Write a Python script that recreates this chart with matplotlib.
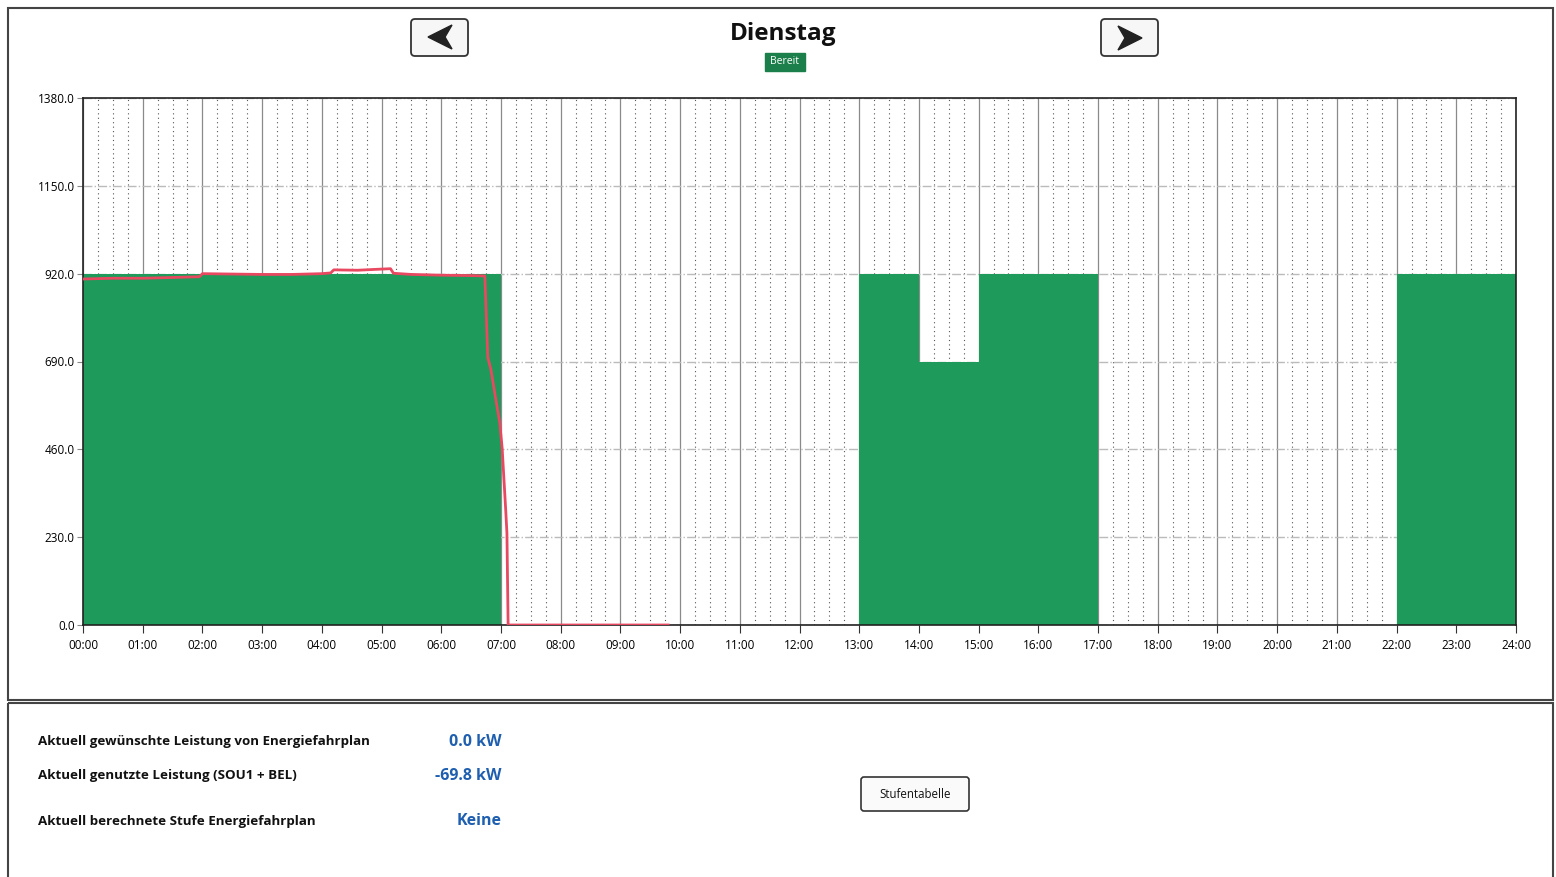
import matplotlib.pyplot as plt
import numpy as np
from matplotlib.patches import Rectangle, FancyBboxPatch, Polygon

plt.rcParams['font.family'] = ['Open Sans', 'DejaVu Sans']

# schedule (green steps) in hours / kW
sched_hours = [0, 7, 13, 14, 15, 17, 22, 24]
sched_values = [920, 0, 920, 690, 920, 0, 920, 920]

# measured power (red line)
red_hours = [0, 0.5, 1.0, 1.5, 1.95, 2.0, 2.5, 3.0, 3.5, 4.0, 4.15, 4.2, 4.6, 5.0, 5.15, 5.2,
             5.5, 6.0, 6.5, 6.73, 6.78, 6.83, 6.98, 7.02, 7.08, 7.1, 7.12, 9.8]
red_values = [906, 908, 908, 910, 912, 920, 919, 918, 918, 920, 922, 930, 929, 932, 933, 921,
              918, 916, 915, 914, 700, 670, 529, 463, 300, 241, 0, 0]

yticks = [0, 230, 460, 690, 920, 1150, 1380]
xtick_labels = ['%02d:00' % h for h in range(25)]

title = 'Dienstag'
status = 'Bereit'
info_labels = ['Aktuell gewünschte Leistung von Energiefahrplan',
               'Aktuell genutzte Leistung (SOU1 + BEL)',
               'Aktuell berechnete Stufe Energiefahrplan']
info_values = ['0.0 kW', '-69.8 kW', 'Keine']

W, H = 1556, 877
fig = plt.figure(figsize=(W / 100, H / 100), dpi=100)

# background layer in pixel coordinates
bg = fig.add_axes([0, 0, 1, 1], zorder=0)
bg.set_xlim(0, W)
bg.set_ylim(H, 0)
bg.axis('off')
bg.add_patch(Rectangle((8, 8), 1545, 692, fill=False, ec='#444444', lw=1.5))
bg.add_patch(Rectangle((8, 703), 1545, 180, fill=False, ec='#444444', lw=1.5))

bg.text(783, 34, title, ha='center', va='center', fontsize=17.5, fontweight='bold', color='#111111')
bg.add_patch(Rectangle((765, 53), 40, 18, color='#1a7f4a'))
bg.text(785, 62, status, ha='center', va='center', fontsize=7.5, color='white')

# navigation buttons
for x0 in (411, 1101):
    bg.add_patch(FancyBboxPatch((x0, 19), 57, 37, boxstyle='round,pad=0,rounding_size=4',
                                fc='#f7f7f7', ec='#333333', lw=1.3))
bg.add_patch(Polygon([(428, 37), (452, 25), (445, 37), (452, 49)], closed=True, color='#222222'))
bg.add_patch(Polygon([(1142, 38), (1118, 26), (1125, 38), (1118, 50)], closed=True, color='#222222'))

# info panel
for i, (lab, val) in enumerate(zip(info_labels, info_values)):
    y = [742, 776, 821][i]
    bg.text(38, y, lab, ha='left', va='center', fontsize=9.6, fontweight='bold', color='#111111')
    bg.text(502, y, val, ha='right', va='center', fontsize=11.5, fontweight='bold', color='#1f5fb0')

bg.add_patch(FancyBboxPatch((861, 777), 108, 34, boxstyle='round,pad=0,rounding_size=3',
                            fc='#fafafa', ec='#333333', lw=1.2))
bg.text(915, 794, 'Stufentabelle', ha='center', va='center', fontsize=8.3, color='#111111')

# chart
left, right, top, bottom = 83, 1516, 98, 625
ax = fig.add_axes([left / W, 1 - bottom / H, (right - left) / W, (bottom - top) / H], zorder=1)
ax.set_xlim(0, 24)
ax.set_ylim(0, 1380)

ax.fill_between(sched_hours, sched_values, step='post', color='#1e9a5a', lw=0, zorder=2)
ax.plot(red_hours, red_values, color='#e84860', lw=2, zorder=3)

ax.set_xticks(range(25))
ax.set_xticklabels(xtick_labels)
ax.set_xticks(np.arange(0, 24, 0.25), minor=True)
ax.set_yticks(yticks)
ax.set_yticklabels(['%.1f' % v for v in yticks])

ax.grid(axis='x', which='major', color='#8a8a8a', lw=0.9, ls='-', zorder=1)
ax.grid(axis='x', which='minor', color='#555555', lw=0.8, ls=(0, (1, 3)), zorder=1)
ax.grid(axis='y', which='major', color='#bbbbbb', lw=1.0, ls='-.', zorder=1)

ax.tick_params(axis='x', which='major', length=6, color='#333333', labelsize=8.5, pad=4)
ax.tick_params(axis='x', which='minor', length=0)
ax.tick_params(axis='y', length=4, color='#888888', labelsize=8.5, pad=2)
for s in ax.spines.values():
    s.set_color('#222222')
    s.set_linewidth(1.2)

fig.savefig('out.png', dpi=100)
